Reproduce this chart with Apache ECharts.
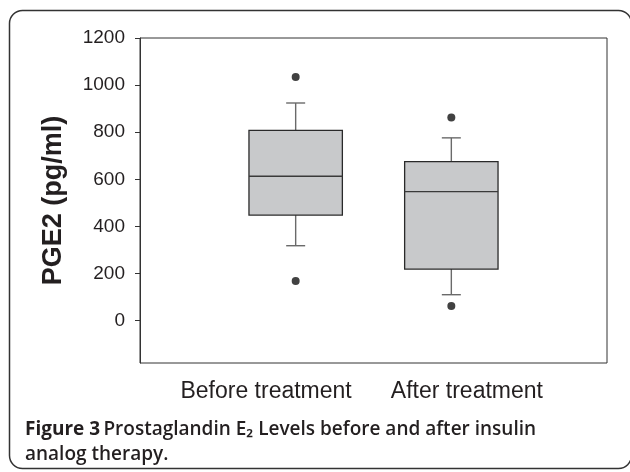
<!DOCTYPE html>
<html>
<head>
<meta charset="utf-8">
<script src="https://cdn.jsdelivr.net/npm/echarts@6/dist/echarts.min.js"></script>
<style>
  html, body { margin: 0; padding: 0; background: #fff; }
  #main { width: 630px; height: 472px; }
</style>
</head>
<body>
<div id="main"></div>
<script>
  // 数据
  var categories = ['Before treatment', 'After treatment'];
  var boxPos = [1, 2];
  // [lower whisker, Q1, median, Q3, upper whisker]
  var boxBefore = [318, 448, 613, 808, 924];
  var boxAfter = [110, 219, 548, 675, 776];
  var outliersBefore = [1034, 168];
  var outliersAfter = [862, 62];
  var yTicks = [0, 200, 400, 600, 800, 1000, 1200];

  var textColor = '#231f20';
  var boxData = [[boxPos[0]].concat(boxBefore), [boxPos[1]].concat(boxAfter)];
  var outlierData = [];
  outliersBefore.forEach(function (v) { outlierData.push([boxPos[0], v]); });
  outliersAfter.forEach(function (v) { outlierData.push([boxPos[1], v]); });

  var chart = echarts.init(document.getElementById('main'), null, {renderer: 'canvas'});

  chart.setOption({
    animation: false,
    backgroundColor: '#fff',
    grid: {
      left: 140,
      top: 38,
      right: 23,
      bottom: 109,
      show: true,
      borderColor: '#333',
      borderWidth: 1
    },
    xAxis: {
      type: 'value',
      min: 0,
      max: 3,
      axisLine: {show: false},
      axisTick: {show: false},
      splitLine: {show: false},
      axisLabel: {
        customValues: [0.81, 2.1],
        margin: 17,
        color: textColor,
        fontSize: 23,
        fontFamily: 'Liberation Sans, Arial, sans-serif',
        formatter: function (value) {
          return value < 1.5 ? categories[0] : categories[1];
        }
      }
    },
    yAxis: {
      type: 'value',
      min: -180,
      max: 1200,
      name: 'PGE2 (pg/ml)',
      nameLocation: 'middle',
      nameGap: 73,
      nameTextStyle: {
        color: textColor,
        fontSize: 27,
        fontWeight: 'bold',
        fontFamily: 'Liberation Sans, Arial, sans-serif'
      },
      axisLine: {show: true, lineStyle: {color: '#333', width: 1}},
      axisTick: {
        show: true,
        inside: false,
        length: 5,
        customValues: yTicks,
        lineStyle: {color: '#333'}
      },
      axisLabel: {
        customValues: yTicks,
        margin: 15,
        color: textColor,
        fontSize: 19,
        fontFamily: 'Liberation Sans, Arial, sans-serif',
        formatter: function (value) {
          return String(value);
        }
      },
      splitLine: {show: false}
    },
    series: [{
      type: 'custom',
      data: boxData,
      encode: {x: 0, y: [1, 2, 3, 4, 5]},
      renderItem: function (params, api) {
        var x = api.value(0);
        var lo = api.coord([x, api.value(1)]);
        var q1 = api.coord([x, api.value(2)]);
        var med = api.coord([x, api.value(3)]);
        var q3 = api.coord([x, api.value(4)]);
        var hi = api.coord([x, api.value(5)]);
        var cx = lo[0];
        var half = api.size([0.6, 0])[0] / 2;
        var cap = 9.5;
        var whisker = {stroke: '#6a6a6a', lineWidth: 1.4};
        return {
          type: 'group',
          children: [
            {type: 'line', shape: {x1: cx, y1: q3[1], x2: cx, y2: hi[1]}, style: whisker},
            {type: 'line', shape: {x1: cx - cap, y1: hi[1], x2: cx + cap, y2: hi[1]}, style: whisker},
            {type: 'line', shape: {x1: cx, y1: q1[1], x2: cx, y2: lo[1]}, style: whisker},
            {type: 'line', shape: {x1: cx - cap, y1: lo[1], x2: cx + cap, y2: lo[1]}, style: whisker},
            {
              type: 'rect',
              shape: {x: cx - half, y: q3[1], width: half * 2, height: q1[1] - q3[1]},
              style: {fill: '#c8c9cb', stroke: '#2a2a2a', lineWidth: 1.3}
            },
            {type: 'line', shape: {x1: cx - half, y1: med[1], x2: cx + half, y2: med[1]}, style: {stroke: '#3a3a3a', lineWidth: 1.3}}
          ]
        };
      }
    }, {
      type: 'scatter',
      data: outlierData,
      symbol: 'circle',
      symbolSize: 8,
      itemStyle: {color: '#111'}
    }],
    graphic: [{
      type: 'rect',
      shape: {x: 9.5, y: 10.5, width: 622, height: 458, r: 13},
      style: {fill: 'none', stroke: '#333', lineWidth: 1.5},
      silent: true
    }, {
      type: 'text',
      left: 25,
      top: 417,
      style: {
        text: '{b|Figure 3} {n|Prostaglandin E₂ Levels before and after insulin}\n{n|analog therapy.}',
        fill: textColor,
        lineHeight: 25,
        rich: {
          b: {fontSize: 19, fontWeight: 'bold', fontFamily: 'Open Sans, sans-serif', fill: textColor, lineHeight: 25},
          n: {fontSize: 19, fontWeight: 600, fontFamily: 'Open Sans, sans-serif', fill: textColor, lineHeight: 25}
        }
      }
    }]
  });
</script>
</body>
</html>
